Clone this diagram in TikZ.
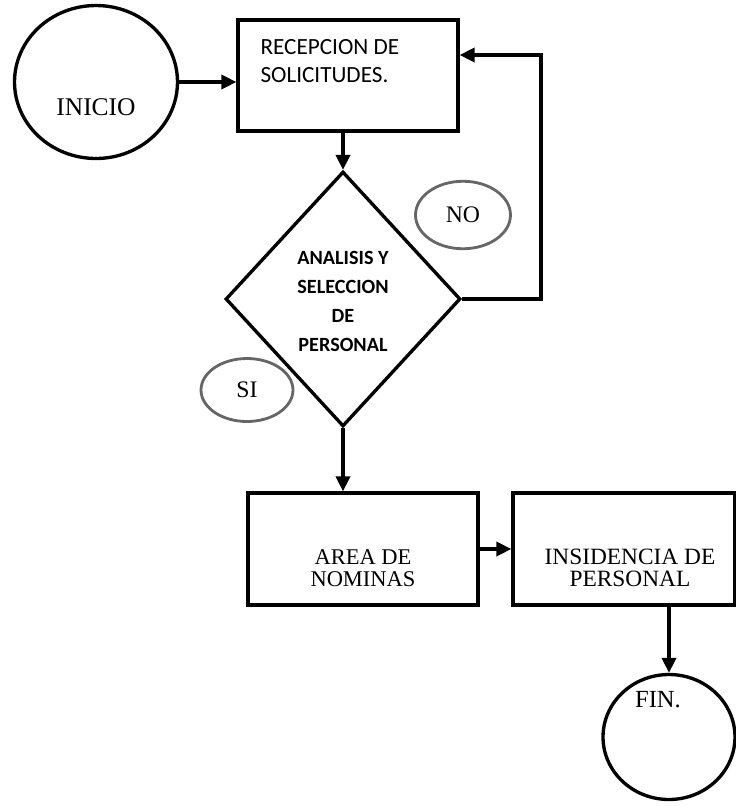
\documentclass[tikz,border=0pt]{standalone}
\usepackage{fontspec}
\setmainfont{Liberation Serif}
\newfontfamily\calibri{Carlito}
\usetikzlibrary{shapes.geometric}
\usetikzlibrary{arrows.meta}
\usetikzlibrary{calc}

\begin{document}
\begin{tikzpicture}[x=0.02cm, y=-0.02cm,
  line width=1.9pt,
  flecha/.style={-{Triangle[length=8.5pt,width=8pt]}},
  terminal/.style={draw, ellipse, inner sep=0pt},
  caja/.style={draw, rectangle, inner sep=0pt},
  decision/.style={draw, diamond, inner sep=0pt},
  marca/.style={draw=black!60, ellipse, line width=1.6pt, inner sep=0pt,
                minimum width=1.9cm, minimum height=1.35cm}]

  \useasboundingbox (0,0) rectangle (736,806);

%---------------------------------------
% Shapes
%---------------------------------------
  \node[terminal, minimum width=3.26cm, minimum height=3.06cm] (inicio) at (96,82) {};
  \node[caja, minimum width=4.4cm, minimum height=2.22cm] (recep) at (348,75.5) {};
  \node[decision, minimum width=4.7cm, minimum height=5.1cm] (diam) at (343,299) {};
  \node[caja, minimum width=4.6cm, minimum height=2.24cm] (area) at (363,549) {};
  \node[caja, minimum width=4.44cm, minimum height=2.24cm] (insid) at (624,549) {};
  \node[terminal, minimum width=2.64cm, minimum height=2.5cm] (fin) at (669,737) {};

  % NO / SI marks
  \node[marca] (no) at (463,215) {};
  \node[marca, minimum width=1.84cm, minimum height=1.26cm] (si) at (247,390) {};

%---------------------------------------
% Texts
%---------------------------------------
  \node[font=\fontsize{14.5}{16}\selectfont] (inicio-t) at (96,107) {INICIO};
  \node[anchor=west, align=left, font=\calibri\fontsize{13.2}{16.4}\selectfont]
    (recep-t) at (253,61) {RECEPCION DE\\SOLICITUDES.};
  \node[align=center, font=\calibri\bfseries\fontsize{11.5}{16.5}\selectfont]
    (diam-t) at (343,301) {ANALISIS Y\\SELECCION\\DE\\PERSONAL};
  \node[align=center, font=\fontsize{12.8}{12.6}\selectfont]
    (area-t) at (363,568) {AREA DE\\NOMINAS};
  \node[align=center, font=\fontsize{13.3}{12.6}\selectfont]
    (insid-t) at (630,568) {INSIDENCIA DE\\PERSONAL};
  \node[font=\fontsize{14}{16}\selectfont] (fin-t) at (658,700) {FIN.};
  \node[font=\fontsize{13.5}{16}\selectfont] (no-t) at (463,215) {NO};
  \node[font=\fontsize{13.5}{16}\selectfont] (si-t) at (247,390) {SI};

%---------------------------------------
% Connectors
%---------------------------------------
  \draw[flecha] (inicio.east) -- (inicio.east -| recep.west);
  \draw[flecha] (diam.north |- recep.south) -- (diam.north);
  \draw[flecha] (diam.south) -- (diam.south |- area.north);
  \draw[flecha] (area.east) -- (insid.west);
  \draw[flecha] (fin.north |- insid.south) -- (fin.north);

  % loop back (NO)
  \coordinate (vuelta) at (541,55);
  \draw[flecha] (diam.east) -| (vuelta) -- (vuelta -| recep.east);

\end{tikzpicture}
\end{document}
